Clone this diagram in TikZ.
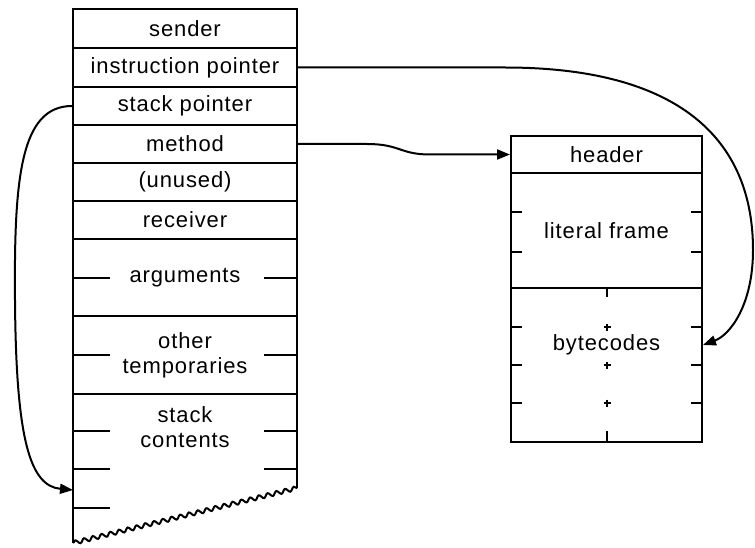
\documentclass[tikz,border=0pt]{standalone}
\usepackage{fontspec}
\setmainfont{Liberation Sans}[LetterSpace=4]
\usetikzlibrary{arrows.meta,decorations.pathmorphing}

\tikzset{
  cell/.style={draw, line width=2pt, inner sep=0pt, align=center,
    font=\fontsize{22}{25}\selectfont},
  txt/.style={inner sep=0pt, align=center, font=\fontsize{22}{25}\selectfont},
  link/.style={line width=2pt, -{Triangle[length=13pt,width=10pt]}},
  tick/.style={line width=2pt},
}

\begin{document}
\begin{tikzpicture}[x=1pt, y=-1pt]
    \useasboundingbox (0,0) rectangle (755,548);

    % --- LEFT: CONTEXT ---
    \node[cell, minimum width=224pt, minimum height=39pt] (sender) at (185,28.5) {sender};
    \node[cell, minimum width=224pt, minimum height=39pt] (ip) at (185,67.5) {instruction pointer};
    \node[cell, minimum width=224pt, minimum height=38pt] (sp) at (185,106) {stack pointer};
    \node[cell, minimum width=224pt, minimum height=38pt] (method) at (185,144) {method};
    \node[cell, minimum width=224pt, minimum height=38pt] (unused) at (185,182) {(unused)};
    \node[cell, minimum width=224pt, minimum height=38pt] (receiver) at (185,220) {receiver};
    \node[cell, minimum width=224pt, minimum height=77pt] (args) at (185,277.5) {arguments};
    \node[cell, minimum width=224pt, minimum height=78pt] (temps) at (185,355) {other\\temporaries};
    \node[txt] (stack) at (185,427) {stack\\contents};

    % open end of the stack
    \draw[tick] (73,394) -- (73,543);
    \draw[tick] (297,394) -- (297,488);
    \draw[tick, decorate, decoration={snake, amplitude=2pt, segment length=9pt}]
        (73,543) -- (297,488);

    % Ticks
    \foreach \y in {277.5, 355, 431} {
        \draw[tick] (73,\y) -- (110,\y);
        \draw[tick] (264,\y) -- (297,\y);
    }
    \draw[tick] (73,469) -- (110,469);
    \draw[tick] (264,469) -- (297,469);
    \draw[tick] (73,508) -- (110,508);

    % --- RIGHT: METHOD ---
    \node[cell, minimum width=191pt, minimum height=37pt] (header) at (606.5,154.5) {header};
    \node[cell, minimum width=191pt, minimum height=115pt] (literal) at (606.5,230.5) {literal frame};
    \node[cell, minimum width=191pt, minimum height=154pt] (code) at (606.5,365) {};
    \node[txt] (bytes) at (606.5,345) {bytecodes};

    \foreach \y in {212, 252, 327, 365, 403} {
        \draw[tick] (511,\y) -- (522,\y);
        \draw[tick] (691,\y) -- (702,\y);
    }
    \foreach \y in {327, 365, 403}
        \draw[line width=1.8pt] (603.5,\y) -- (610.5,\y) (607,\y-3.5) -- (607,\y+3.5);
    \draw[tick] (607,288) -- (607,297);
    \draw[tick] (607,442) -- (607,431);

    % Pointers
    \coordinate (spin) at (73,490);
    \draw[link] (sp.west) .. controls (20,106) and (14,180) .. (15,300)
        .. controls (16,440) and (30,486) .. (spin);
    \draw[link] (method.east) -- (367,144) .. controls (400,144) and (400,154.5) ..
        (430,154.5) -- (header.west);
    \draw[link] (ip.east) -- (505,67.5) .. controls (680,67.5) and (753,140) ..
        (753,250) .. controls (753,305) and (730,335) .. ([yshift=20pt]code.east);
\end{tikzpicture}
\end{document}
